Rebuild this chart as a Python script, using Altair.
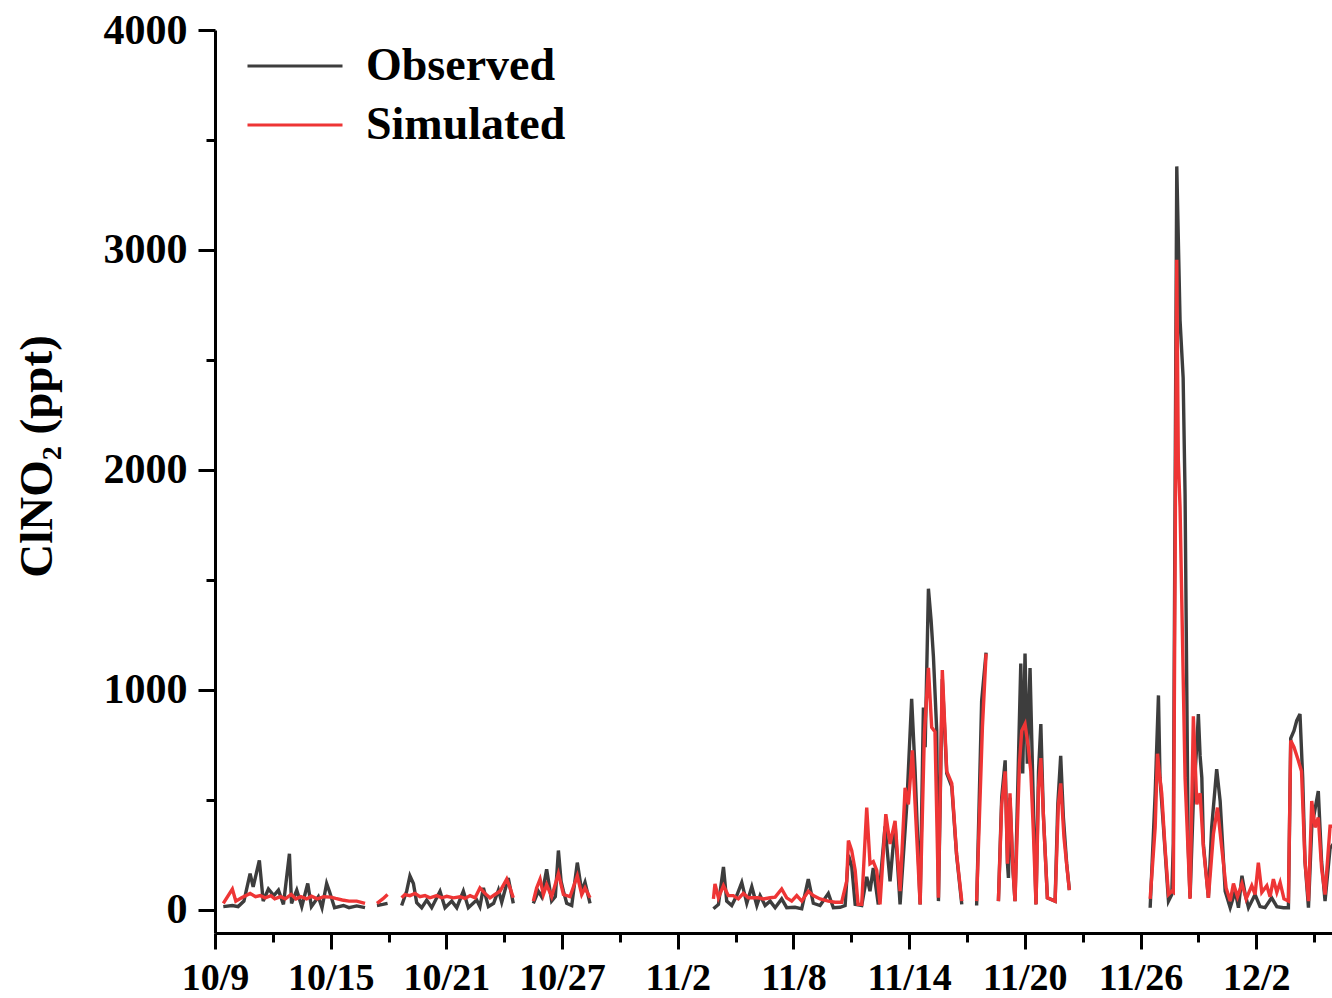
import altair as alt
import pandas as pd

# Day offsets since 2019-10-09 00:00 and ClNO2 (ppt); None marks a data gap
OBS_DAY = [0.43, 0.9, 1.2, 1.5, 1.82, 1.98, 2.3, 2.5, 2.77, 3.05, 3.29, 3.55, 3.86, 3.97, 4.24, 4.5, 4.81, 5.0, 5.36, 5.55, 5.79, 5.95, 6.2, 6.66, 6.95, 7.35, 7.78,
           None,
           8.4, 8.7, 8.95,
           None,
           9.68, 9.94, 10.11, 10.29, 10.46, 10.72, 10.98, 11.24, 11.67, 11.93, 12.28, 12.54, 12.88, 13.14, 13.57, 13.74, 13.92, 14.18, 14.45, 14.7, 14.87, 15.21, 15.47,
           None,
           16.51, 16.77, 16.94, 17.2, 17.46, 17.65, 17.81, 17.95, 18.07, 18.24, 18.5, 18.79, 19.02, 19.19, 19.45,
           None,
           25.85, 26.11, 26.37, 26.54, 26.8, 27.06, 27.32, 27.58, 27.84, 28.1, 28.27, 28.53, 28.79, 29.05, 29.39, 29.65, 30.08, 30.43, 30.77, 31.03, 31.38, 31.81, 32.07, 32.42, 32.68, 32.85, 33.02, 33.2, 33.54, 33.8, 33.97, 34.14, 34.4, 34.75, 35.01, 35.27, 35.53, 35.88, 36.13, 36.31, 36.57, 36.74, 36.83, 37.0, 37.14, 37.26, 37.43, 37.52, 37.72, 37.95, 38.21, 38.46, 38.73,
           None,
           39.5, 39.76, 39.99,
           None,
           40.63, 40.8, 40.98, 41.1, 41.15, 41.23, 41.37, 41.49, 41.67, 41.79, 41.89, 42.01, 42.13, 42.27, 42.41, 42.58, 42.71, 42.83, 42.96, 43.17, 43.57, 43.71, 43.86, 44.0, 44.17, 44.31,
           None,
           48.5, 48.76, 48.93, 49.01, 49.19, 49.45, 49.62, 49.7, 49.88, 50.05, 50.21, 50.31, 50.47, 50.57, 50.74, 50.92, 51.0, 51.09, 51.18, 51.26, 51.52, 51.69, 51.95, 52.13, 52.39, 52.65, 52.91, 53.08, 53.26, 53.43, 53.6, 53.94, 54.2, 54.46, 54.8, 55.07, 55.41, 55.67, 55.79, 55.96, 56.1, 56.27, 56.41, 56.53, 56.71, 56.88, 57.22, 57.39, 57.57, 57.83, 58.0]
OBS_VAL = [15, 20, 15, 40, 165, 105, 225, 40, 95, 65, 90, 25, 255, 30, 90, 15, 120, 15, 60, 10, 120, 80, 10, 20, 10, 18, 10,
           None,
           20, 25, 30,
           None,
           20, 85, 155, 120, 33, 10, 45, 10, 85, 10, 40, 10, 85, 10, 45, 15, 100, 15, 30, 90, 35, 145, 30,
           None,
           30, 85, 60, 185, 40, 60, 270, 130, 85, 30, 20, 215, 85, 125, 30,
           None,
           5, 25, 195, 40, 20, 65, 125, 30, 105, 20, 65, 20, 40, 10, 50, 10, 12, 5, 140, 30, 20, 75, 10, 12, 20, 250, 200, 25, 20, 150, 85, 190, 25, 380, 130, 390, 25, 480, 960, 630, 25, 920, 740, 1460, 1315, 1150, 815, 40, 1050, 620, 560, 250, 25,
           None,
           20, 950, 1170,
           None,
           40, 510, 680, 210, 145, 510, 200, 40, 690, 1120, 620, 1165, 665, 1100, 590, 25, 630, 845, 435, 55, 40, 480, 700, 420, 210, 90,
           None,
           10, 530, 975, 600, 375, 40, 70, 300, 3380, 2680, 2420, 1890, 300, 55, 500, 750, 890, 700, 600, 300, 55, 375, 640, 495, 85, 10, 85, 10, 155, 70, 10, 70, 15, 10, 55, 15, 10, 10, 780, 815, 860, 890, 600, 220, 10, 375, 540, 220, 40, 280, 300]

SIM_DAY = [0.43, 0.9, 1.08, 1.38, 1.82, 2.1, 2.35, 2.6, 2.9, 3.1, 3.4, 3.65, 3.95, 4.2, 4.45, 4.75, 5.0, 5.3, 5.65, 6.0, 6.25, 6.6, 6.95, 7.35, 7.78,
           None,
           8.4, 8.7, 8.95,
           None,
           9.68, 9.85, 10.11, 10.37, 10.63, 10.89, 11.15, 11.5, 11.76, 12.02, 12.36, 12.71, 12.97, 13.23, 13.49, 13.74, 14.0, 14.26, 14.52, 14.78, 15.13, 15.3, 15.47,
           None,
           16.51, 16.68, 16.86, 17.03, 17.2, 17.46, 17.81, 18.07, 18.41, 18.79, 19.02, 19.19, 19.45,
           None,
           25.85, 25.93, 26.11, 26.37, 26.62, 26.88, 27.14, 27.4, 27.66, 27.92, 28.18, 28.44, 28.79, 29.05, 29.39, 29.65, 29.91, 30.17, 30.43, 30.77, 31.03, 31.38, 31.81, 32.16, 32.5, 32.76, 32.85, 33.02, 33.2, 33.35, 33.54, 33.8, 33.97, 34.14, 34.32, 34.49, 34.79, 35.01, 35.27, 35.53, 35.79, 35.96, 36.17, 36.31, 36.57, 36.79, 37.0, 37.17, 37.34, 37.52, 37.72, 37.95, 38.21, 38.46, 38.73,
           None,
           39.5, 39.8, 39.99,
           None,
           40.63, 40.8, 40.98, 41.1, 41.23, 41.37, 41.49, 41.72, 41.84, 42.01, 42.18, 42.31, 42.44, 42.58, 42.71, 42.83, 43.0, 43.17, 43.57, 43.74, 43.86, 44.03, 44.2, 44.31,
           None,
           48.5, 48.76, 48.88, 48.98, 49.1, 49.27, 49.45, 49.62, 49.7, 49.88, 49.96, 50.05, 50.31, 50.57, 50.74, 50.92, 51.09, 51.26, 51.52, 51.78, 51.99, 52.21, 52.44, 52.65, 52.82, 53.03, 53.26, 53.48, 53.77, 53.94, 54.11, 54.29, 54.55, 54.72, 54.89, 55.07, 55.24, 55.44, 55.67, 55.79, 55.96, 56.18, 56.35, 56.53, 56.71, 56.88, 57.05, 57.22, 57.39, 57.57, 57.83, 58.0]
SIM_VAL = [30, 95, 40, 55, 75, 60, 65, 55, 65, 50, 60, 50, 70, 50, 60, 50, 62, 50, 60, 58, 52, 45, 40, 40, 30,
           None,
           30, 50, 70,
           None,
           55, 70, 65, 75, 60, 65, 55, 65, 55, 62, 55, 60, 52, 65, 55, 100, 75, 55, 70, 85, 140, 100, 55,
           None,
           40, 100, 140, 70, 115, 60, 165, 70, 60, 155, 70, 100, 55,
           None,
           50, 118, 55, 110, 65, 65, 50, 75, 55, 55, 55, 50, 55, 58, 95, 55, 40, 65, 40, 85, 65, 50, 40, 35, 35, 130, 315, 270, 180, 25, 25, 465, 210, 220, 180, 25, 435, 300, 405, 85, 555, 480, 725, 480, 25, 800, 1100, 830, 810, 55, 1090, 630, 575, 255, 40,
           None,
           40, 830, 1165,
           None,
           40, 480, 630, 210, 530, 210, 40, 665, 815, 845, 740, 630, 360, 25, 555, 690, 360, 55, 40, 480, 575, 330, 180, 90,
           None,
           50, 375, 710, 620, 530, 285, 70, 85, 80, 2955, 2045, 1830, 600, 50, 880, 480, 530, 285, 55, 345, 465, 285, 100, 40, 120, 60, 120, 50, 110, 70, 215, 80, 110, 60, 140, 80, 125, 50, 40, 770, 740, 680, 630, 220, 40, 495, 375, 420, 190, 70, 380, 380]

SERIES = ["Observed", "Simulated"]
COLORS = ["#3d3d3d", "#ee3535"]
X_TICKS = [(10, 9), (10, 12), (10, 15), (10, 18), (10, 21), (10, 24), (10, 27), (10, 30),
           (11, 2), (11, 5), (11, 8), (11, 11), (11, 14), (11, 17), (11, 20), (11, 23),
           (11, 26), (11, 29), (12, 2), (12, 5)]
Y_TICKS = [0, 500, 1000, 1500, 2000, 2500, 3000, 3500, 4000]

BASE = pd.Timestamp("2019-10-09")


def build(days, vals, name):
    rows, seg = [], 0
    for d, v in zip(days, vals):
        if v is None:
            seg += 1
            continue
        rows.append({"time": BASE + pd.Timedelta(days=d), "value": v,
                     "series": name, "seg": f"{name}-{seg}"})
    return rows


obs = pd.DataFrame(build(OBS_DAY, OBS_VAL, SERIES[0]))
sim = pd.DataFrame(build(SIM_DAY, SIM_VAL, SERIES[1]))

FONT = "Liberation Serif"
MAJOR_X = "round((datum.value - datetime(2019, 9, 9)) / 86400000) % 6 === 0"
MAJOR_Y = "datum.value % 1000 === 0"

x_axis = alt.Axis(
    values=[alt.DateTime(year=2019, month=m, date=d) for m, d in X_TICKS],
    format="%-m/%-d", labelExpr=f"{MAJOR_X} ? datum.label : ''",
    tickSize={"condition": {"test": MAJOR_X, "value": 16}, "value": 9},
    labelOverlap=False, labelFlush=False, labelBound=False, labelPadding=10,
    labelFontSize=38, title=None, grid=False,
)
y_axis = alt.Axis(
    values=Y_TICKS, format="d", labelExpr=f"{MAJOR_Y} ? datum.label : ''",
    tickSize={"condition": {"test": MAJOR_Y, "value": 17}, "value": 9},
    labelOverlap=False, labelFlush=False, labelBound=False, labelPadding=11,
    labelFontSize=42,
    title="ClNO₂ (ppt)", titleFont=FONT, titleFontSize=47, titleFontWeight="bold",
    titleColor="black", titleAngle=270, titleX=-178, titleY=426,
    titleAlign="center", titleBaseline="middle", grid=False,
)

x_scale = alt.Scale(domain=[alt.DateTime(year=2019, month=10, date=9),
                            alt.DateTime(year=2019, month=12, date=5, hours=22, minutes=20)])
y_scale = alt.Scale(domain=[-105, 4000], nice=False, zero=False)

# wide horizontal stroke as the legend symbol (path scaled by sqrt(size)/2)
legend = alt.Legend(
    title=None, orient="none", legendX=57, legendY=13,
    symbolType="M-3,0H3", symbolSize=1003, symbolStrokeWidth=3,
    labelFont=FONT, labelFontSize=46, labelFontWeight="bold", labelColor="black",
    labelOffset=48, labelLimit=0, rowPadding=13, padding=0,
)
color = alt.Color("series:N", scale=alt.Scale(domain=SERIES, range=COLORS), legend=legend)


def layer(df):
    return alt.Chart(df).mark_line(strokeWidth=3.4, clip=True).encode(
        x=alt.X("time:T", scale=x_scale, axis=x_axis),
        y=alt.Y("value:Q", scale=y_scale, axis=y_axis),
        color=color,
        detail="seg:N",
    )


chart = alt.layer(layer(obs), layer(sim)).properties(
    width=1117, height=903,
    autosize=alt.AutoSizeParams(type="none"),
    padding={"left": 215, "top": 30, "right": 0, "bottom": 65},
).configure_axis(
    domainColor="black", domainWidth=3, tickColor="black", tickWidth=3,
    labelFont=FONT, labelFontWeight="bold", labelColor="black",
).configure_view(stroke=None)

chart.save("out.html", embed_options={"renderer": "svg", "actions": False})
